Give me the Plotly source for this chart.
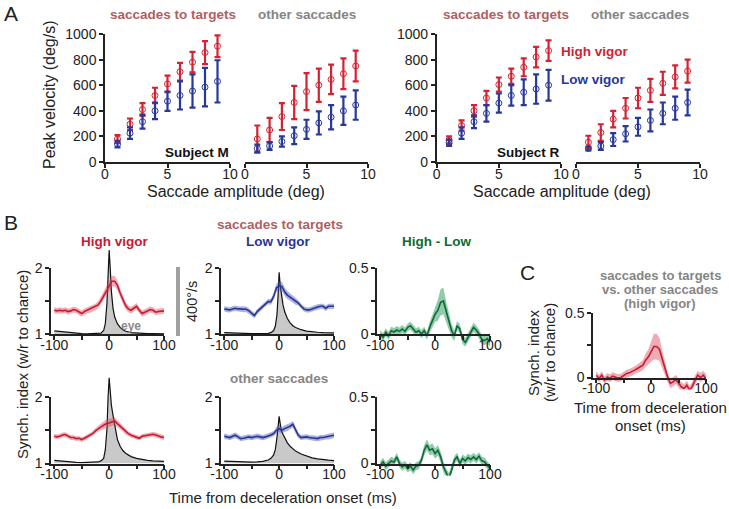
import plotly.graph_objects as go

W, H = 729, 509
FONT = "Liberation Sans, Arial, sans-serif"
INK = "#222222"

# ---------------- Panel A data ----------------
amplitude = [1, 2, 3, 4, 5, 6, 7, 8, 9]
m_tgt_high = [180, 295, 410, 520, 610, 705, 780, 855, 905]
m_tgt_high_err = [30, 45, 50, 60, 65, 70, 80, 90, 85]
m_tgt_low = [140, 225, 315, 400, 475, 520, 555, 585, 630]
m_tgt_low_err = [25, 45, 55, 65, 75, 110, 130, 150, 165]
m_oth_high = [180, 250, 355, 465, 550, 600, 645, 690, 750]
m_oth_high_err = [105, 95, 105, 130, 145, 130, 115, 120, 120]
m_oth_low = [105, 125, 160, 205, 255, 305, 350, 400, 445]
m_oth_low_err = [30, 30, 40, 65, 75, 90, 95, 110, 115]
r_tgt_high = [170, 285, 400, 500, 605, 670, 740, 820, 870]
r_tgt_high_err = [30, 40, 45, 55, 55, 60, 70, 80, 80]
r_tgt_low = [150, 225, 315, 380, 460, 520, 545, 570, 600]
r_tgt_low_err = [25, 45, 50, 65, 75, 80, 100, 115, 120]
r_oth_high = [155, 230, 335, 420, 500, 560, 615, 665, 710]
r_oth_high_err = [50, 65, 65, 80, 80, 90, 90, 90, 90]
r_oth_low = [105, 125, 175, 220, 275, 325, 380, 420, 465]
r_oth_low_err = [15, 30, 50, 60, 70, 85, 85, 90, 100]

amp_ticks = [0, 5, 10]
vel_ticks = [0, 200, 400, 600, 800, 1000]

# ---------------- Panel B / C data ----------------
t = list(range(-100, 101, 5))
hv_tgt = [1.36, 1.35, 1.36, 1.35, 1.36, 1.34, 1.35, 1.37, 1.36, 1.33, 1.31, 1.34, 1.36, 1.37, 1.39, 1.41, 1.44,
          1.50, 1.58, 1.66, 1.72, 1.80, 1.80, 1.74, 1.62, 1.52, 1.43, 1.38, 1.36, 1.39, 1.42, 1.36, 1.31, 1.33,
          1.35, 1.37, 1.36, 1.33, 1.34, 1.35, 1.35]
hv_tgt_sem = [0.045] * 13 + [0.05, 0.05, 0.05, 0.055, 0.06, 0.065, 0.07, 0.075, 0.08, 0.08, 0.075, 0.07, 0.06,
                             0.055, 0.05, 0.05, 0.05, 0.05] + [0.045] * 10
lv_tgt = [1.38, 1.37, 1.365, 1.38, 1.39, 1.38, 1.375, 1.37, 1.375, 1.35, 1.31, 1.28, 1.34, 1.38, 1.42, 1.46, 1.49,
          1.49, 1.57, 1.70, 1.73, 1.72, 1.64, 1.59, 1.56, 1.53, 1.49, 1.47, 1.42, 1.38, 1.365, 1.365, 1.38, 1.40,
          1.41, 1.42, 1.42, 1.39, 1.42, 1.42, 1.42]
lv_tgt_sem = [0.04] * 17 + [0.045, 0.05, 0.06, 0.07, 0.07, 0.065, 0.06, 0.055, 0.05, 0.045] + [0.04] * 14
diff_tgt = [0.0, -0.025, 0.013, -0.013, 0.025, 0.015, 0.03, 0.02, 0.038, 0.02, 0.05, 0.063, 0.038, 0.013, 0.025,
            0.0, 0.025, -0.013, 0.05, 0.10, 0.15, 0.18, 0.24, 0.25, 0.17, 0.10, 0.025, -0.013, 0.063, 0.038, -0.04,
            -0.063, -0.025, 0.013, 0.05, 0.03, 0.0, -0.04, -0.05, -0.035, -0.06]
diff_tgt_sem = [0.03] * 18 + [0.04, 0.05, 0.06, 0.08, 0.1, 0.1, 0.08, 0.06, 0.05, 0.04] + [0.035] * 13
hv_oth = [1.41, 1.40, 1.41, 1.43, 1.435, 1.41, 1.39, 1.39, 1.375, 1.38, 1.36, 1.38, 1.40, 1.42, 1.45, 1.49, 1.525,
          1.55, 1.575, 1.60, 1.61, 1.625, 1.64, 1.60, 1.56, 1.525, 1.475, 1.45, 1.425, 1.41, 1.39, 1.38, 1.41, 1.42,
          1.425, 1.43, 1.44, 1.43, 1.41, 1.40, 1.39]
hv_oth_sem = [0.035] * 15 + [0.04, 0.045, 0.05, 0.055, 0.06, 0.06, 0.06, 0.06, 0.055, 0.05, 0.045, 0.04] + [0.035] * 14
lv_oth = [1.41, 1.40, 1.39, 1.41, 1.425, 1.40, 1.375, 1.38, 1.39, 1.40, 1.39, 1.40, 1.41, 1.40, 1.39, 1.40, 1.41,
          1.43, 1.45, 1.50, 1.525, 1.50, 1.525, 1.54, 1.56, 1.59, 1.50, 1.425, 1.39, 1.40, 1.40, 1.39, 1.39, 1.38,
          1.375, 1.39, 1.39, 1.40, 1.40, 1.41, 1.425]
lv_oth_sem = [0.04] * 19 + [0.05] * 8 + [0.04] * 14
diff_oth = [-0.013, 0.013, -0.02, 0.0, 0.02, 0.01, 0.05, 0.0, -0.025, -0.01, -0.038, -0.02, -0.05, -0.02, -0.013,
            0.025, 0.10, 0.14, 0.10, 0.11, 0.075, 0.10, 0.05, -0.025, -0.075, -0.11, -0.05, 0.025, 0.05, 0.0, 0.038,
            0.02, 0.045, 0.03, 0.05, 0.03, 0.055, 0.02, 0.013, -0.01, -0.038]
diff_oth_sem = [0.03] * 16 + [0.04] * 11 + [0.03] * 14
c_diff = [0.018, -0.008, 0.018, -0.02, 0.005, -0.005, 0.01, 0.0, -0.005, 0.0, 0.018, 0.03, 0.036, 0.044, 0.057,
          0.07, 0.082, 0.095, 0.134, 0.16, 0.2, 0.24, 0.24, 0.22, 0.147, 0.07, 0.005, -0.046, -0.034, -0.015, -0.046,
          -0.072, -0.085, -0.06, -0.098, -0.07, -0.02, 0.018, 0.0, 0.018, -0.008]
c_diff_sem = [0.03] * 16 + [0.035, 0.04, 0.05, 0.06, 0.08, 0.1, 0.1, 0.09, 0.07, 0.05, 0.04] + [0.035] * 14

t_eye = [-100, -90, -80, -70, -60, -50, -40, -30, -20, -15, -10, -7, -4, -2, 0, 2, 4, 7, 10, 15, 20, 25, 30, 40,
         50, 60, 70, 80, 90, 100]
eye_hv_tgt = [18, 14, 10, 6, 4, 2, 1, 1, 2, 5, 20, 60, 180, 360, 486, 380, 250, 150, 100, 60, 38, 25, 16, 8, 5, 3,
              2, 2, 1, 1]
eye_lv_tgt = [8, 6, 5, 4, 3, 2, 2, 2, 4, 8, 20, 45, 110, 220, 358, 280, 220, 170, 130, 90, 65, 48, 38, 25, 17, 12,
              10, 8, 7, 6]
eye_hv_oth = [18, 14, 10, 8, 6, 5, 5, 6, 9, 15, 30, 80, 200, 380, 497, 420, 340, 280, 220, 140, 100, 75, 60, 40,
              30, 22, 18, 15, 13, 12]
eye_lv_oth = [14, 12, 10, 9, 8, 8, 9, 12, 20, 30, 50, 80, 150, 210, 274, 230, 190, 170, 150, 120, 100, 85, 72, 55,
              42, 33, 27, 22, 19, 17]

time_ticks = [-100, -50, 0, 50, 100]
time_text = ["-100", "", "0", "", "100"]
synch_ticks = [1, 1.5, 2]
synch_text = ["1", "", "2"]
diff_ticks = [0, 0.25, 0.5]
diff_text = ["0", "", "0.5"]
EYE_BAR = 400  # deg/s represented by the scale bar

# ---------------- colours ----------------
RED_A = "#d42232"
BLUE_A = "#27379b"
RED = "#c81a32"
RED_BAND = "rgba(222,70,90,0.45)"
BLUE = "#2a3592"
BLUE_BAND = "rgba(70,85,190,0.45)"
GREEN = "#0b6b36"
GREEN_BAND = "rgba(40,150,85,0.5)"
ROSE = "#b0605f"
GREY = "#858585"


def fx(p):
    return p / W


def fy(p):
    return 1 - p / H


layout = {}
counter = [0]


def new_pair(xpx, ypx, xr, yr, xopts=None, yopts=None):
    counter[0] += 1
    i = counter[0]
    s = "" if i == 1 else str(i)
    xo = dict(visible=False) if xopts is None else xopts
    yo = dict(visible=False) if yopts is None else yopts
    layout["xaxis" + s] = dict(domain=[fx(xpx[0]), fx(xpx[1])], range=xr, anchor="y" + s,
                               fixedrange=True, showgrid=False, zeroline=False, automargin=False, **xo)
    layout["yaxis" + s] = dict(domain=[fy(ypx[1]), fy(ypx[0])], range=yr, anchor="x" + s,
                               fixedrange=True, showgrid=False, zeroline=False, automargin=False, **yo)
    return "x" + s, "y" + s


def vis_axis(tickvals, ticktext=None, size=14, standoff=0):
    d = dict(showline=True, linecolor=INK, linewidth=1.5, ticks="outside", ticklen=4, tickwidth=1.5,
             tickcolor=INK, tickvals=tickvals, tickfont=dict(size=size, color=INK, family=FONT),
             ticklabelstandoff=standoff)
    if ticktext is not None:
        d["ticktext"] = ticktext
    return d


traces = []

# ---------------- Panel A ----------------
A_Y = (34, 162)
a_panels = [
    ((105, 230), True, m_tgt_high, m_tgt_high_err, m_tgt_low, m_tgt_low_err),
    ((245, 368), False, m_oth_high, m_oth_high_err, m_oth_low, m_oth_low_err),
    ((436.7, 561), True, r_tgt_high, r_tgt_high_err, r_tgt_low, r_tgt_low_err),
    ((576, 700), False, r_oth_high, r_oth_high_err, r_oth_low, r_oth_low_err),
]
for xpx, showy, hi, hie, lo, loe in a_panels:
    yo = vis_axis(vel_ticks, size=14) if showy else dict(visible=False)
    xa, ya = new_pair(xpx, A_Y, [0, 10], [0, 1000], vis_axis(amp_ticks, size=14, standoff=-6), yo)
    for vals, errs, col in ((hi, hie, RED_A), (lo, loe, BLUE_A)):
        traces.append(go.Scatter(
            x=amplitude, y=vals, xaxis=xa, yaxis=ya, mode="markers", showlegend=False,
            marker=dict(symbol="circle-open", size=6, color=col, line=dict(width=1, color=col)),
            error_y=dict(type="data", array=errs, color=col, thickness=2.2, width=3)))

# ---------------- Panel B / C ----------------
EYE_PX = 69.0  # pixel length of the 400 deg/s scale bar


def synch_panel(xpx, ypx, yr, yticks, ytext, series, sems, line_col, band_col, eye=None,
                ext_top=30, ext_bot=12):
    xr = [-106, 100]
    top, bot = ypx
    pp = (yr[1] - yr[0]) / (bot - top)
    if eye is not None:
        et = top - 40
        ex, ey = new_pair(xpx, (et, bot), xr, [0, (bot - et) * EYE_BAR / EYE_PX])
        traces.append(go.Scatter(x=t_eye, y=eye, xaxis=ex, yaxis=ey, mode="lines", fill="tozeroy",
                                 fillcolor="#c9c9c9", line=dict(color="#111111", width=1.2),
                                 showlegend=False, hoverinfo="skip"))
    dx, dy = new_pair(xpx, (top - ext_top, bot + ext_bot), xr,
                      [yr[0] - ext_bot * pp, yr[1] + ext_top * pp])
    upper = [m + s for m, s in zip(series, sems)]
    lower = [m - s for m, s in zip(series, sems)]
    traces.append(go.Scatter(x=t + t[::-1], y=upper + lower[::-1], xaxis=dx, yaxis=dy, mode="lines",
                             fill="toself", fillcolor=band_col, line=dict(width=0), showlegend=False,
                             hoverinfo="skip"))
    traces.append(go.Scatter(x=t, y=series, xaxis=dx, yaxis=dy, mode="lines",
                             line=dict(color=line_col, width=1.6), showlegend=False))
    fxa, fya = new_pair(xpx, ypx, xr, yr, vis_axis(time_ticks, time_text, standoff=-7),
                        vis_axis(yticks, ytext))
    # empty trace so that the framing axes are drawn
    traces.append(go.Scatter(x=[None], y=[None], xaxis=fxa, yaxis=fya, mode="lines",
                             showlegend=False, hoverinfo="skip"))


ROW1 = (268, 334)
ROW2 = (397, 463.5)
COL1 = (51, 164)
COL2 = (221, 334)
COL3 = (377, 490)
synch_panel(COL1, ROW1, [1, 2], synch_ticks, synch_text, hv_tgt, hv_tgt_sem, RED, RED_BAND, eye_hv_tgt)
synch_panel(COL2, ROW1, [1, 2], synch_ticks, synch_text, lv_tgt, lv_tgt_sem, BLUE, BLUE_BAND, eye_lv_tgt)
synch_panel(COL3, ROW1, [0, 0.5], diff_ticks, diff_text, diff_tgt, diff_tgt_sem, GREEN, GREEN_BAND)
synch_panel(COL1, ROW2, [1, 2], synch_ticks, synch_text, hv_oth, hv_oth_sem, RED, RED_BAND, eye_hv_oth)
synch_panel(COL2, ROW2, [1, 2], synch_ticks, synch_text, lv_oth, lv_oth_sem, BLUE, BLUE_BAND, eye_lv_oth)
synch_panel(COL3, ROW2, [0, 0.5], diff_ticks, diff_text, diff_oth, diff_oth_sem, GREEN, GREEN_BAND)
synch_panel((593, 706), (313, 377.5), [0, 0.5], diff_ticks, diff_text, c_diff, c_diff_sem, RED, RED_BAND)

# ---------------- annotations ----------------
ann = []


def label(text, x, y, size=15, color=INK, bold=False, angle=0, xanchor="center"):
    if bold:
        text = "<b>" + text + "</b>"
    ann.append(dict(text=text, x=fx(x), y=fy(y), xref="paper", yref="paper", showarrow=False,
                    xanchor=xanchor, yanchor="middle", textangle=angle,
                    font=dict(size=size, color=color, family=FONT)))


label("A", 11, 13, size=21)
label("B", 11, 222, size=21)
label("C", 527, 272, size=21)
# Panel A
label("saccades to targets", 173, 15, 13.5, ROSE, True)
label("other saccades", 307, 15, 13.5, GREY, True)
label("saccades to targets", 506, 15, 13.5, ROSE, True)
label("other saccades", 640, 15, 13.5, GREY, True)
label("Subject M", 197, 152, 13.5, "#111111", True)
label("Subject R", 528, 152, 13.5, "#111111", True)
label("High vigor", 559, 52, 13.5, RED_A, True, xanchor="left")
label("Low vigor", 559, 80, 13.5, BLUE_A, True, xanchor="left")
label("Saccade amplitude (deg)", 236, 191, 16)
label("Saccade amplitude (deg)", 562, 191, 16)
label("Peak velocity (deg/s)", 50, 95, 16, angle=-90)
# Panel B
label("High vigor", 114, 242, 13.5, RED, True)
label("saccades to targets", 280, 225, 13.5, ROSE, True)
label("Low vigor", 278, 242, 13.5, BLUE, True)
label("High - Low", 436, 242, 13.5, GREEN, True)
label("other saccades", 279, 378, 13.5, GREY, True)
label("eye", 131, 326, 12, "#8a8a8a", True)
label("400°/s", 192, 302, 14.5, angle=-90)
label("Synch. index (w/r to chance)", 22, 365, 15, angle=-90)
label("Time from deceleration onset (ms)", 283, 497, 15)
# Panel C
label("saccades to targets", 660, 275, 13, GREY, True)
label("vs. other saccades", 660, 289, 13, GREY, True)
label("(high vigor)", 660, 303, 13, GREY, True)
label("Synch. index", 533, 353, 15, angle=-90)
label("(w/r to chance)", 549, 353, 15, angle=-90)
label("Time from deceleration", 650, 407, 15)
label("onset (ms)", 650, 425, 15)

shapes = [dict(type="line", xref="paper", yref="paper", x0=fx(178), x1=fx(178), y0=fy(267), y1=fy(336),
               line=dict(color="#a0a0a0", width=4))]

fig = go.Figure(data=traces)
fig.update_layout(width=W, height=H, autosize=False,
                  margin=dict(l=0, r=0, t=0, b=0, pad=0, autoexpand=False),
                  paper_bgcolor="white", plot_bgcolor="rgba(0,0,0,0)", showlegend=False,
                  font=dict(family=FONT, color=INK), annotations=ann, shapes=shapes, **layout)
fig.write_html("out.html", config={"displayModeBar": False},
               post_script="document.body.style.margin='0px';document.body.style.overflow='hidden';")
